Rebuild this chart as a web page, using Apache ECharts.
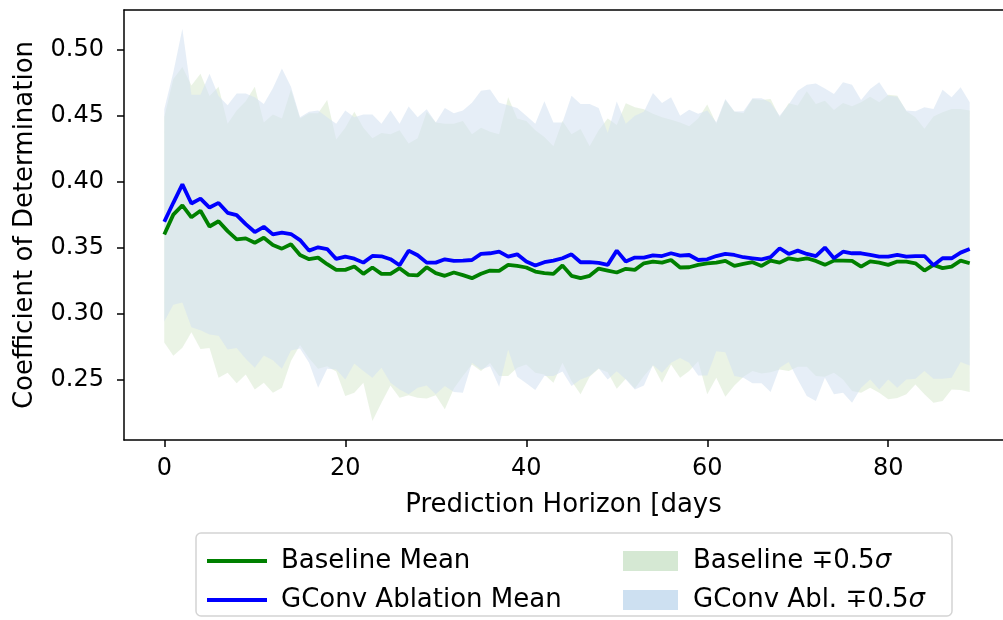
<!DOCTYPE html>
<html>
<head>
<meta charset="utf-8">
<script src="https://cdn.jsdelivr.net/npm/echarts@6/dist/echarts.min.js"></script>
<style>
  html, body { margin: 0; padding: 0; background: #fff; }
  #chart { width: 1003px; height: 620px; }
</style>
</head>
<body>
<div id="chart"></div>
<script>
// prediction horizon, days
var days = [0, 1, 2, 3, 4, 5, 6, 7, 8, 9, 10, 11, 12, 13, 14, 15, 16, 17, 18, 19,
	20, 21, 22, 23, 24, 25, 26, 27, 28, 29, 30, 31, 32, 33, 34, 35, 36, 37, 38, 39,
	40, 41, 42, 43, 44, 45, 46, 47, 48, 49, 50, 51, 52, 53, 54, 55, 56, 57, 58, 59,
	60, 61, 62, 63, 64, 65, 66, 67, 68, 69, 70, 71, 72, 73, 74, 75, 76, 77, 78, 79,
	80, 81, 82, 83, 84, 85, 86, 87, 88, 89];

// means
var baseMean = [0.360, 0.375, 0.382, 0.373, 0.378, 0.366, 0.370, 0.3625, 0.3563, 0.357,
	0.3537, 0.3575, 0.352, 0.3492, 0.3525, 0.3444, 0.3412, 0.3424, 0.3374, 0.3331,
	0.3331, 0.3356, 0.3301, 0.3349, 0.3301, 0.3301, 0.3344, 0.3293, 0.329, 0.3351,
	0.3306, 0.3286, 0.3311, 0.3291, 0.3268, 0.3301, 0.3326, 0.3324, 0.3369, 0.3361,
	0.3349, 0.3318, 0.3306, 0.3301, 0.3364, 0.3286, 0.3268, 0.3286, 0.3341, 0.3326,
	0.3311, 0.3339, 0.3331, 0.3381, 0.3394, 0.3386, 0.3406, 0.3349, 0.3351, 0.3369,
	0.3381, 0.3386, 0.3399, 0.3361, 0.3376, 0.3389, 0.3361, 0.3401, 0.3386, 0.3419,
	0.3406, 0.3419, 0.3399, 0.3369, 0.3401, 0.3401, 0.3399, 0.3356, 0.3396, 0.3386,
	0.3369, 0.3394, 0.3394, 0.3381, 0.3326, 0.3369, 0.3344, 0.3356, 0.3401, 0.3381];
var gconvMean = [0.3696, 0.384, 0.398, 0.3835, 0.3872, 0.3804, 0.3839, 0.3764, 0.3746, 0.3678,
	0.3618, 0.3658, 0.360, 0.3613, 0.3603, 0.3557, 0.3477, 0.3502, 0.3489, 0.3414,
	0.3431, 0.3416, 0.3386, 0.3437, 0.3434, 0.3412, 0.3366, 0.3477, 0.3442, 0.3386,
	0.3386, 0.3411, 0.3399, 0.3401, 0.3406, 0.3452, 0.3457, 0.3469, 0.3431, 0.3449,
	0.3394, 0.3364, 0.3389, 0.3401, 0.3419, 0.3449, 0.3389, 0.3389, 0.3384, 0.3369,
	0.3477, 0.3394, 0.3424, 0.3424, 0.3441, 0.3436, 0.3457, 0.3439, 0.3444, 0.3406,
	0.3411, 0.3436, 0.3452, 0.3444, 0.3427, 0.3419, 0.3411, 0.3427, 0.3495, 0.3452,
	0.3477, 0.3452, 0.3436, 0.350, 0.3419, 0.3469, 0.3457, 0.3457, 0.3444, 0.3431,
	0.3431, 0.3444, 0.3431, 0.3436, 0.3436, 0.3366, 0.3419, 0.3419, 0.3462, 0.3489];

// band edges (mean -/+ 0.5 sigma)
var baseUpper = [0.449, 0.478, 0.487, 0.473, 0.482, 0.465, 0.472, 0.444, 0.454, 0.461,
	0.472, 0.445, 0.451, 0.448, 0.470, 0.448, 0.452, 0.452, 0.462, 0.432,
	0.441, 0.453, 0.441, 0.433, 0.437, 0.436, 0.439, 0.429, 0.433, 0.453,
	0.445, 0.444, 0.444, 0.446, 0.436, 0.441, 0.438, 0.436, 0.464, 0.448,
	0.446, 0.439, 0.434, 0.427, 0.446, 0.436, 0.440, 0.427, 0.439, 0.448,
	0.443, 0.4595, 0.4565, 0.455, 0.4515, 0.449, 0.447, 0.445, 0.442, 0.448,
	0.4585, 0.444, 0.462, 0.453, 0.452, 0.4628, 0.462, 0.4628, 0.449, 0.4595,
	0.4578, 0.4686, 0.459, 0.4615, 0.4545, 0.4598, 0.4572, 0.4603, 0.4645, 0.4603,
	0.466, 0.4653, 0.4535, 0.449, 0.4401, 0.4494, 0.4527, 0.4552, 0.4552, 0.454];
var baseLower = [0.278, 0.268, 0.274, 0.2857, 0.2731, 0.2739, 0.2512, 0.255, 0.247, 0.2537,
	0.2424, 0.2475, 0.2399, 0.2437, 0.264, 0.276, 0.266, 0.258, 0.260, 0.256,
	0.2374, 0.2399, 0.2475, 0.2185, 0.2323, 0.2454, 0.2361, 0.2379, 0.2361, 0.2354,
	0.238, 0.2273, 0.243, 0.2525, 0.2613, 0.2563, 0.2625, 0.2525, 0.2525, 0.2588,
	0.2613, 0.255, 0.2537, 0.2475, 0.2626, 0.2487, 0.2387, 0.252, 0.258, 0.2555,
	0.2429, 0.2505, 0.243, 0.2525, 0.2605, 0.2475, 0.2613, 0.2512, 0.2563, 0.2638,
	0.2387, 0.2512, 0.2369, 0.2454, 0.252, 0.2563, 0.2545, 0.2555, 0.2575, 0.2563,
	0.2595, 0.2595, 0.2525, 0.252, 0.255, 0.250, 0.2412, 0.2399, 0.2437, 0.2399,
	0.2349, 0.2359, 0.2387, 0.2462, 0.2387, 0.2323, 0.2336, 0.2424, 0.2419, 0.2404];
var gconvUpper = [0.455, 0.483, 0.516, 0.466, 0.466, 0.482, 0.465, 0.458, 0.467, 0.467,
	0.464, 0.459, 0.471, 0.486, 0.472, 0.449, 0.453, 0.454, 0.449, 0.444,
	0.454, 0.449, 0.451, 0.451, 0.444, 0.454, 0.444, 0.457, 0.449, 0.455,
	0.445, 0.456, 0.452, 0.454, 0.460, 0.469, 0.470, 0.460, 0.458, 0.456,
	0.450, 0.444, 0.461, 0.445, 0.445, 0.4653, 0.459, 0.459, 0.456, 0.437,
	0.4608, 0.444, 0.450, 0.453, 0.4673, 0.4598, 0.464, 0.450, 0.4547, 0.4515,
	0.454, 0.4452, 0.4628, 0.4532, 0.4535, 0.4633, 0.4633, 0.460, 0.450, 0.4585,
	0.4691, 0.4736, 0.4746, 0.4708, 0.4666, 0.4754, 0.4736, 0.462, 0.4703, 0.4754,
	0.4653, 0.4645, 0.454, 0.4535, 0.4565, 0.4552, 0.4698, 0.464, 0.4716, 0.4603];
var gconvLower = [0.294, 0.3066, 0.3084, 0.2895, 0.2872, 0.284, 0.2832, 0.2726, 0.2739, 0.2656,
	0.2588, 0.2681, 0.2646, 0.258, 0.272, 0.2735, 0.2626, 0.2437, 0.258, 0.2575,
	0.250, 0.2621, 0.2563, 0.2512, 0.2588, 0.2475, 0.2424, 0.2387, 0.2437, 0.2454,
	0.2387, 0.245, 0.2404, 0.2399, 0.2626, 0.2575, 0.260, 0.2444, 0.2727, 0.252,
	0.247, 0.2419, 0.2525, 0.2525, 0.256, 0.2449, 0.250, 0.2525, 0.2585, 0.250,
	0.2562, 0.250, 0.2424, 0.2454, 0.261, 0.255, 0.2626, 0.2663, 0.2626, 0.253,
	0.253, 0.2714, 0.2706, 0.2525, 0.2512, 0.247, 0.247, 0.2404, 0.2588, 0.2631,
	0.250, 0.2374, 0.2336, 0.2512, 0.2387, 0.2399, 0.2323, 0.2437, 0.250, 0.2424,
	0.250, 0.2437, 0.250, 0.2505, 0.2563, 0.2505, 0.2505, 0.2512, 0.2631, 0.2605];

var xTicks = [0, 20, 40, 60, 80];
var yTicks = [0.25, 0.30, 0.35, 0.40, 0.45, 0.50];

var FONT = 'DejaVu Sans';

function pairs(xs, ys) {
	var out = [];
	for (var i = 0; i < xs.length; i++) out.push([xs[i], ys[i]]);
	return out;
}

// one filled polygon per band: upper edge left to right, lower edge back
function bandSeries(name, lo, hi, fill) {
	var data = [];
	for (var i = 0; i < days.length; i++) data.push([days[i], lo[i], hi[i]]);
	return {
		name : name, type : 'custom', silent : true, z : 1,
		itemStyle : { color : fill },
		encode : { x : 0, y : [1, 2] },
		data : data,
		renderItem : function(params, api) {
			if (params.dataIndex !== 0) return;
			var pts = [], i;
			for (i = 0; i < data.length; i++) pts.push(api.coord([data[i][0], data[i][2]]));
			for (i = data.length - 1; i >= 0; i--) pts.push(api.coord([data[i][0], data[i][1]]));
			return {
				type : 'polygon',
				shape : { points : pts },
				style : { fill : fill }
			};
		}
	};
}

var myChart = echarts.init(document.getElementById('chart'));

var option = {
	animation : false,
	backgroundColor : '#fff',
	textStyle : { fontFamily : FONT },
	grid : { left : 124, top : 10, right : 0, bottom : 180 },
	graphic : [ {
		type : 'rect',
		z : 0,
		shape : { x : 196, y : 533, width : 756, height : 83, r : 5 },
		style : { fill : '#fff', stroke : '#d4d4d4', lineWidth : 1.5 }
	} ],
	legend : [ {
		orient : 'vertical',
		left : 202, top : 541,
		itemWidth : 60, itemHeight : 4, itemGap : 9,
		selectedMode : false,
		textStyle : { fontSize : 26, fontFamily : FONT, color : '#000', lineHeight : 30, padding : [0, 0, 0, 9] },
		data : [
			{ name : 'Baseline Mean', icon : 'rect', itemStyle : { color : '#008000' } },
			{ name : 'GConv Ablation Mean', icon : 'rect', itemStyle : { color : '#0000ff' } }
		]
	}, {
		orient : 'vertical',
		left : 618, top : 541,
		itemWidth : 55, itemHeight : 20, itemGap : 9,
		selectedMode : false,
		textStyle : {
			fontSize : 26, fontFamily : FONT, color : '#000', lineHeight : 30, padding : [0, 0, 0, 10],
			rich : { i : { fontSize : 26, fontFamily : FONT, fontStyle : 'italic', color : '#000' } }
		},
		formatter : function(name) { return name.replace('σ', '{i|σ}'); },
		data : [
			{ name : 'Baseline ∓0.5σ', icon : 'rect', itemStyle : { color : '#d5e8d3' } },
			{ name : 'GConv Abl. ∓0.5σ', icon : 'rect', itemStyle : { color : '#cde0f1' } }
		]
	} ],
	xAxis : [ {
		type : 'value',
		min : -4.45, max : 92.68,
		name : 'Prediction Horizon [days',
		nameLocation : 'middle', nameGap : 52,
		nameTextStyle : { fontSize : 26, fontFamily : FONT, color : '#000' },
		axisLine : { show : true, onZero : false, lineStyle : { color : '#000', width : 1.5 } },
		axisTick : { show : true, length : 7, lineStyle : { color : '#000', width : 1.5 }, customValues : xTicks },
		axisLabel : { fontSize : 24, fontFamily : FONT, color : '#000', margin : 17, customValues : xTicks },
		splitLine : { show : false }
	}, {
		type : 'value', position : 'top',
		min : -4.45, max : 92.68,
		axisLine : { show : true, onZero : false, lineStyle : { color : '#000', width : 1.5 } },
		axisTick : { show : false }, axisLabel : { show : false }, splitLine : { show : false }
	} ],
	yAxis : {
		type : 'value',
		min : 0.204, max : 0.5303,
		name : 'Coefficient of Determination',
		nameLocation : 'middle', nameGap : 86,
		nameTextStyle : { fontSize : 26, fontFamily : FONT, color : '#000' },
		axisLine : { show : true, onZero : false, lineStyle : { color : '#000', width : 1.5 } },
		axisTick : { show : true, length : 7, lineStyle : { color : '#000', width : 1.5 }, customValues : yTicks },
		axisLabel : {
			fontSize : 24, fontFamily : FONT, color : '#000', margin : 20, customValues : yTicks,
			formatter : function(v) { return v.toFixed(2); }
		},
		splitLine : { show : false }
	},
	series : [
		bandSeries('Baseline ∓0.5σ', baseLower, baseUpper, 'rgba(214,231,204,0.5)'),
		bandSeries('GConv Abl. ∓0.5σ', gconvLower, gconvUpper, 'rgba(212,226,241,0.58)'),
		{
			name : 'Baseline Mean', type : 'line', symbol : 'none', z : 5,
			itemStyle : { color : '#008000' },
			lineStyle : { color : '#008000', width : 3.8 },
			data : pairs(days, baseMean)
		}, {
			name : 'GConv Ablation Mean', type : 'line', symbol : 'none', z : 5,
			itemStyle : { color : '#0000ff' },
			lineStyle : { color : '#0000ff', width : 3.8 },
			data : pairs(days, gconvMean)
		}
	]
};

myChart.setOption(option);
</script>
</body>
</html>
